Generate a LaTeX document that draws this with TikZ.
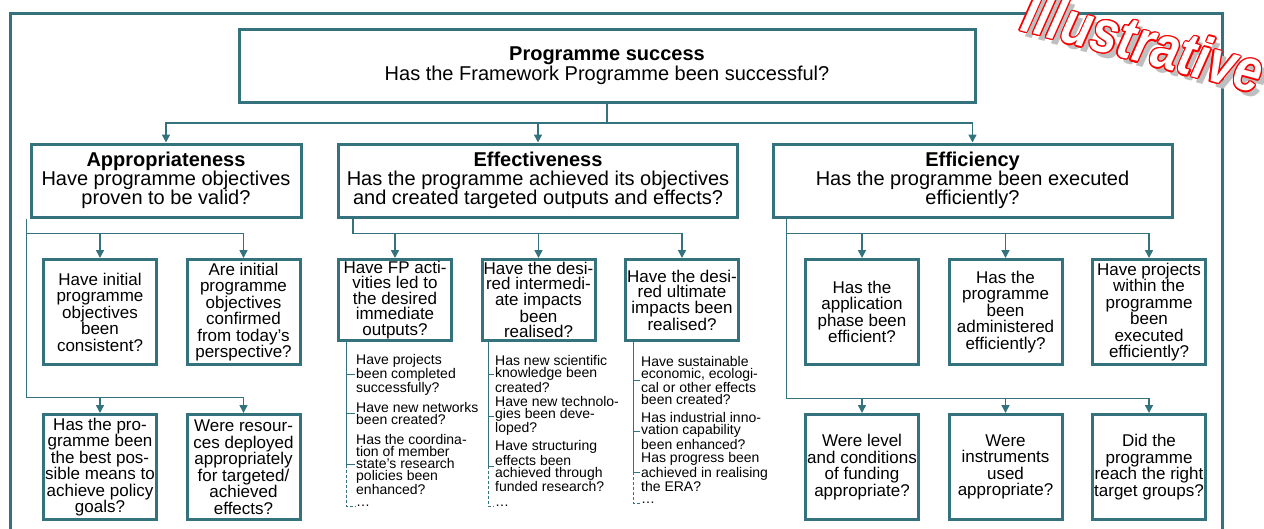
\documentclass[tikz,border=0pt]{standalone}
\usepackage{fontspec}
\setmainfont{Liberation Sans}
\usetikzlibrary{shapes.geometric, arrows, arrows.meta}
\usetikzlibrary{calc}
\definecolor{frameteal}{RGB}{52,115,125}
\definecolor{stampred}{RGB}{250,0,0}
\tikzstyle{topbox} = [rectangle, minimum width = 736pt, minimum height = 73pt, align=center, draw = frameteal, line width = 3pt, font = \fontsize{20}{20}\selectfont]
\tikzstyle{mainbox} = [rectangle, minimum height = 73pt, align=center, draw = frameteal, line width = 3pt, inner sep = 2pt, font = \fontsize{20}{19.3}\selectfont]
\tikzstyle{qbox} = [rectangle, minimum width = 113pt, minimum height = 105pt, align=center, draw = frameteal, line width = 3pt, inner sep = 1pt, font = \fontsize{17}{16.5}\selectfont]
\tikzstyle{sbox} = [qbox, minimum height = 81pt, font = \fontsize{17}{15.5}\selectfont]
\tikzstyle{qitem} = [anchor = west, align = left, inner sep = 1pt, font = \fontsize{14}{12}\selectfont]
\tikzstyle{conn} = [draw = frameteal, line width = 1.5pt]
\tikzstyle{arrow} = [conn, ->, >={Triangle[length=8pt,width=8pt]}]
\tikzstyle{listline} = [draw = frameteal, line width = 0.8pt]
\tikzstyle{stamp} = [anchor = base, rotate = -15, xscale = 0.82, inner sep = 0pt, font = \fontsize{60}{60}\bfseries\itshape\selectfont]

\begin{document}
\begin{tikzpicture}[x=1pt, y=-1pt, node distance=143.5pt]
	\useasboundingbox (0,0) rectangle (1264,528);
	\clip (0,0) rectangle (1264,528);
	\draw [draw = frameteal, line width = 3pt] (10,13) rectangle (1222,560);
	% top level
	\node (succ) [topbox] at (607,65.5) {\textbf{Programme success}\\Has the Framework Programme been successful?};
	\node (approp) [mainbox, minimum width = 270pt] at (166,180.5) {\textbf{Appropriateness}\\Have programme objectives\\proven to be valid?};
	\node (effect) [mainbox, minimum width = 399pt] at (538,180.5) {\textbf{Effectiveness}\\Has the programme achieved its objectives\\and created targeted outputs and effects?};
	\node (effic) [mainbox, minimum width = 399pt] at (972.5,180.5) {\textbf{Efficiency}\\Has the programme been executed\\efficiently?};
	% appropriateness questions
	\node (a1) [qbox] at (100,312) {Have initial\\programme\\objectives\\been\\consistent?};
	\node (a2) [qbox, right of=a1] {Are initial\\programme\\objectives\\confirmed\\from today's\\perspective?};
	\node (a3) [qbox, below of=a1, yshift=-11.5pt] {Has the pro-\\gramme been\\the best pos-\\sible means to\\achieve policy\\goals?};
	\node (a4) [qbox, right of=a3] {Were resour-\\ces deployed\\appropriately\\for targeted/\\achieved\\effects?};
	% effectiveness questions
	\node (e1) [sbox] at (395,300) {Have FP acti-\\vities led to\\the desired\\immediate\\outputs?};
	\node (e2) [sbox, right of=e1] {Have the desi-\\red intermedi-\\ate impacts\\been\\realised?};
	\node (e3) [sbox, right of=e2] {Have the desi-\\red ultimate\\impacts been\\realised?};
	% efficiency questions
	\node (f1) [qbox] at (862,312) {Has the\\application\\phase been\\efficient?};
	\node (f2) [qbox, right of=f1] {Has the\\programme\\been\\administered\\efficiently?};
	\node (f3) [qbox, right of=f2] {Have projects\\within the\\programme\\been\\executed\\efficiently?};
	\node (f4) [qbox, below of=f1, yshift=-11.5pt] {Were level\\and conditions\\of funding\\appropriate?};
	\node (f5) [qbox, right of=f4] {Were\\instruments\\used\\appropriate?};
	\node (f6) [qbox, right of=f5] {Did the\\programme\\reach the right\\target groups?};
	% sub-questions
	\node (l1a) [qitem] at (355,374.5) {Have projects\\been completed\\successfully?};
	\node (l1b) [qitem] at (355,413.5) {Have new networks\\been created?};
	\node (l1c) [qitem] at (355,464.5) {Has the coordina-\\tion of member\\state's research\\policies been\\enhanced?};
	\node (l1d) [qitem] at (355,506) {\ldots};
	\node (l2a) [qitem] at (494,374) {Has new scientific\\knowledge been\\created?};
	\node (l2b) [qitem] at (494,416) {Have new technolo-\\gies been deve-\\loped?};
	\node (l2c) [qitem] at (494,466) {Have structuring\\effects been\\achieved through\\funded research?};
	\node (l2d) [qitem] at (494,506) {\ldots};
	\node (l3a) [qitem] at (640,380.5) {Have sustainable\\economic, ecologi-\\cal or other effects\\been created?};
	\node (l3b) [qitem] at (640,431) {Has industrial inno-\\vation capability\\been enhanced?};
	\node (l3c) [qitem] at (640,472) {Has progress been\\achieved in realising\\the ERA?};
	\node (l3d) [qitem] at (640,503) {\ldots};

	\coordinate (rootJ) at ($(succ.south)+(0,19.5)$);
	\draw [arrow] (succ.south) -- (rootJ) -| (approp.north);
	\draw [arrow] (rootJ) -| (effect.north);
	\draw [arrow] (rootJ) -| (effic.north);

	\coordinate (aTop) at ($(approp.south west)+(-3,0)$);
	\coordinate (aRail1) at ($(aTop)+(0,15)$);
	\coordinate (aRail2) at ($(aTop)+(0,179)$);
	\draw [conn] (aTop) -- (aRail2);
	\draw [arrow] (aRail1) -| (a1.north);
	\draw [arrow] (aRail1) -| (a2.north);
	\draw [arrow] (aRail2) -| (a3.north);
	\draw [arrow] (aRail2) -| (a4.north);

	\coordinate (eTop) at ($(effect.south west)+(16,0)$);
	\coordinate (eRail) at ($(eTop)+(0,15)$);
	\draw [conn] (eTop) -- (eRail);
	\foreach \q in {e1,e2,e3}
		\draw [arrow] (eRail) -| (\q.north);

	\coordinate (fTop) at ($(effic.south west)+(15,0)$);
	\coordinate (fRail1) at ($(fTop)+(0,15)$);
	\coordinate (fRail2) at ($(fTop)+(0,180)$);
	\draw [conn] (fTop) -- (fRail2);
	\foreach \q in {f1,f2,f3}
		\draw [arrow] (fRail1) -| (\q.north);
	\foreach \q in {f4,f5,f6}
		\draw [arrow] (fRail2) -| (\q.north);

	% sub-question brackets
	\foreach \b/\n/\dx in {e1/l1/9, e2/l2/7.5, e3/l3/9} {
		\coordinate (\n top) at ($(\b.south west)+(\dx,0)$);
		\draw [listline] (\n top) |- (\n a.west);
		\draw [listline] (\n top) |- (\n b.west);
		\draw [listline] (\n top) |- (\n c.west);
		\draw [listline, densely dashed] (\n c.west -| \n top) |- (\n d.west);
	}

	% stamp
	\node (stampS) [stamp, text = gray!50] at (1143,68) {Illustrative};
	\foreach \a in {0,30,...,330}
		\node [stamp, text = stampred] at ($(1138,62)+(\a:1.3)$) {Illustrative};
	\node (stamp) [stamp, text = white] at (1138,62) {Illustrative};
\end{tikzpicture}
\end{document}
